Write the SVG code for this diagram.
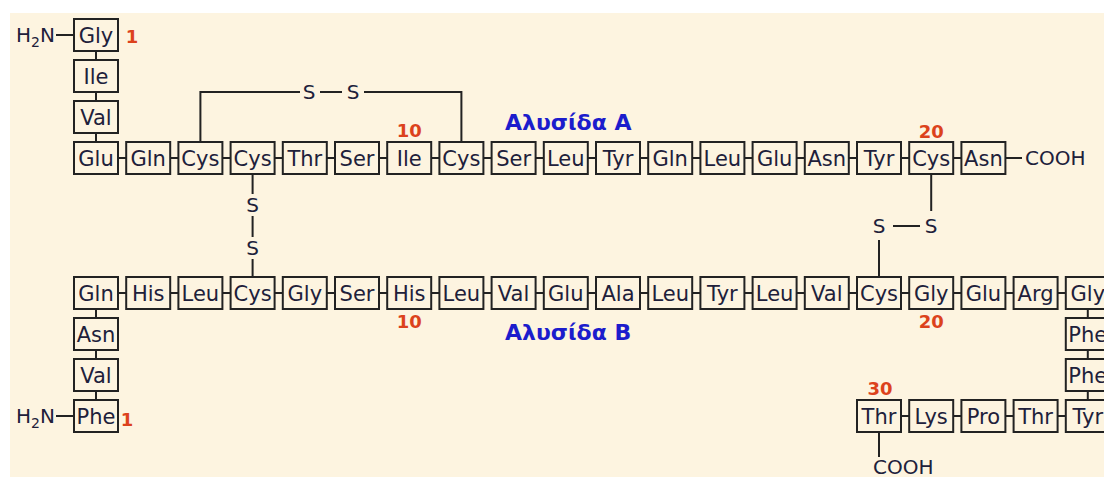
<svg xmlns="http://www.w3.org/2000/svg" width="1104" height="477" viewBox="0 0 1104 477">
  <style>
    .box { fill: none; stroke: #222; stroke-width: 2; }
    .aa { font-family: "DejaVu Sans", Verdana, sans-serif; font-size: 21px; fill: #20203a; text-anchor: middle; }
    .lbl { font-family: "DejaVu Sans", Verdana, sans-serif; font-size: 20px; fill: #20203a; }
    .num { font-family: "DejaVu Sans", Verdana, sans-serif; font-size: 18px; font-weight: bold; fill: #dc421c; text-anchor: middle; }
    .chain { font-family: "DejaVu Sans", Verdana, sans-serif; font-size: 22px; font-weight: bold; fill: #1c1ccc; }
    .bond { fill: none; stroke: #222; stroke-width: 2; }
  </style>
  <defs>
    <rect id="res" class="box" width="44" height="32"/>
  </defs>

  <!-- paper background -->
  <rect x="0" y="0" width="1104" height="477" fill="#ffffff"/>
  <rect x="10" y="13" width="1094" height="464" fill="#fdf4e0"/>

  <!-- peptide bonds and disulfide bridges -->
  <g id="connectors">
    <!-- chain A: N-terminal column -->
    <path class="bond" d="M56,35 H74 M96,51 V60 M96,92 V101 M96,133 V142"/>
    <!-- chain A: horizontal row (y = 158) -->
    <path class="bond" d="M118,158 H126.2 M170.2,158 H178.4 M222.4,158 H230.6 M274.6,158 H282.8 M326.8,158 H335 M379,158 H387.2 M431.2,158 H439.4 M483.4,158 H491.6 M535.6,158 H543.8 M587.8,158 H596 M640,158 H648.2 M692.2,158 H700.4 M744.4,158 H752.6 M796.6,158 H804.8 M848.8,158 H857 M901,158 H909.2 M953.2,158 H961.4 M1005.4,158 H1022"/>
    <!-- chain B: N-terminal column -->
    <path class="bond" d="M56,416 H74 M96,309 V318 M96,350 V359 M96,391 V400"/>
    <!-- chain B: horizontal row (y = 293) -->
    <path class="bond" d="M118,293 H126.2 M170.2,293 H178.4 M222.4,293 H230.6 M274.6,293 H282.8 M326.8,293 H335 M379,293 H387.2 M431.2,293 H439.4 M483.4,293 H491.6 M535.6,293 H543.8 M587.8,293 H596 M640,293 H648.2 M692.2,293 H700.4 M744.4,293 H752.6 M796.6,293 H804.8 M848.8,293 H857 M901,293 H909.2 M953.2,293 H961.4 M1005.4,293 H1013.6 M1057.6,293 H1065.8"/>
    <!-- chain B: right column and C-terminal row -->
    <path class="bond" d="M1087.8,309 V318 M1087.8,350 V359 M1087.8,391 V400 M901,416 H909.2 M953.2,416 H961.4 M1005.4,416 H1013.6 M1057.6,416 H1065.8 M879,432 V457"/>
    <!-- intra-chain bridge A6-A11 -->
    <path class="bond" d="M200.4,142 V92 H300 M320,92 H342 M364,92 H461.4 V142"/>
    <!-- inter-chain bridge A7-B7 -->
    <path class="bond" d="M252.6,174 V194 M252.6,216 V237 M252.6,259 V277"/>
    <!-- inter-chain bridge A20-B19 -->
    <path class="bond" d="M931.2,174 V211 M893,226 H920 M879,240 V277"/>
    <g class="lbl" text-anchor="middle">
      <text x="309" y="99">S</text>
      <text x="353" y="99">S</text>
      <text x="252.6" y="212">S</text>
      <text x="252.6" y="255">S</text>
      <text x="879" y="233">S</text>
      <text x="931.2" y="233">S</text>
    </g>
  </g>

  <!-- chain A residues -->
  <g id="chain-a">
    <g id="a-gly1" transform="translate(74,19)"><use href="#res"/><text class="aa" x="22" y="23.5">Gly</text></g>
    <g id="a-ile2" transform="translate(74,60)"><use href="#res"/><text class="aa" x="22" y="23.5">Ile</text></g>
    <g id="a-val3" transform="translate(74,101)"><use href="#res"/><text class="aa" x="22" y="23.5">Val</text></g>
    <g id="a-glu4" transform="translate(74,142)"><use href="#res"/><text class="aa" x="22" y="23.5">Glu</text></g>
    <g id="a-gln5" transform="translate(126.2,142)"><use href="#res"/><text class="aa" x="22" y="23.5">Gln</text></g>
    <g id="a-cys6" transform="translate(178.4,142)"><use href="#res"/><text class="aa" x="22" y="23.5">Cys</text></g>
    <g id="a-cys7" transform="translate(230.6,142)"><use href="#res"/><text class="aa" x="22" y="23.5">Cys</text></g>
    <g id="a-thr8" transform="translate(282.8,142)"><use href="#res"/><text class="aa" x="22" y="23.5">Thr</text></g>
    <g id="a-ser9" transform="translate(335,142)"><use href="#res"/><text class="aa" x="22" y="23.5">Ser</text></g>
    <g id="a-ile10" transform="translate(387.2,142)"><use href="#res"/><text class="aa" x="22" y="23.5">Ile</text></g>
    <g id="a-cys11" transform="translate(439.4,142)"><use href="#res"/><text class="aa" x="22" y="23.5">Cys</text></g>
    <g id="a-ser12" transform="translate(491.6,142)"><use href="#res"/><text class="aa" x="22" y="23.5">Ser</text></g>
    <g id="a-leu13" transform="translate(543.8,142)"><use href="#res"/><text class="aa" x="22" y="23.5">Leu</text></g>
    <g id="a-tyr14" transform="translate(596,142)"><use href="#res"/><text class="aa" x="22" y="23.5">Tyr</text></g>
    <g id="a-gln15" transform="translate(648.2,142)"><use href="#res"/><text class="aa" x="22" y="23.5">Gln</text></g>
    <g id="a-leu16" transform="translate(700.4,142)"><use href="#res"/><text class="aa" x="22" y="23.5">Leu</text></g>
    <g id="a-glu17" transform="translate(752.6,142)"><use href="#res"/><text class="aa" x="22" y="23.5">Glu</text></g>
    <g id="a-asn18" transform="translate(804.8,142)"><use href="#res"/><text class="aa" x="22" y="23.5">Asn</text></g>
    <g id="a-tyr19" transform="translate(857,142)"><use href="#res"/><text class="aa" x="22" y="23.5">Tyr</text></g>
    <g id="a-cys20" transform="translate(909.2,142)"><use href="#res"/><text class="aa" x="22" y="23.5">Cys</text></g>
    <g id="a-asn21" transform="translate(961.4,142)"><use href="#res"/><text class="aa" x="22" y="23.5">Asn</text></g>
    <g id="a-nterm"><text class="lbl" x="55" y="42" text-anchor="end">H<tspan font-size="14" dy="5">2</tspan><tspan dy="-5">N</tspan></text></g>
    <g id="a-cterm"><text class="lbl" x="1025" y="165">COOH</text></g>
    <text class="num" x="132" y="43">1</text>
    <text class="num" x="409.2" y="137">10</text>
    <text class="num" x="931.2" y="138">20</text>
    <text class="chain" x="505" y="130">Αλυσίδα Α</text>
  </g>

  <!-- chain B residues -->
  <g id="chain-b">
    <g id="b-phe1" transform="translate(74,400)"><use href="#res"/><text class="aa" x="22" y="23.5">Phe</text></g>
    <g id="b-val2" transform="translate(74,359)"><use href="#res"/><text class="aa" x="22" y="23.5">Val</text></g>
    <g id="b-asn3" transform="translate(74,318)"><use href="#res"/><text class="aa" x="22" y="23.5">Asn</text></g>
    <g id="b-gln4" transform="translate(74,277)"><use href="#res"/><text class="aa" x="22" y="23.5">Gln</text></g>
    <g id="b-his5" transform="translate(126.2,277)"><use href="#res"/><text class="aa" x="22" y="23.5">His</text></g>
    <g id="b-leu6" transform="translate(178.4,277)"><use href="#res"/><text class="aa" x="22" y="23.5">Leu</text></g>
    <g id="b-cys7" transform="translate(230.6,277)"><use href="#res"/><text class="aa" x="22" y="23.5">Cys</text></g>
    <g id="b-gly8" transform="translate(282.8,277)"><use href="#res"/><text class="aa" x="22" y="23.5">Gly</text></g>
    <g id="b-ser9" transform="translate(335,277)"><use href="#res"/><text class="aa" x="22" y="23.5">Ser</text></g>
    <g id="b-his10" transform="translate(387.2,277)"><use href="#res"/><text class="aa" x="22" y="23.5">His</text></g>
    <g id="b-leu11" transform="translate(439.4,277)"><use href="#res"/><text class="aa" x="22" y="23.5">Leu</text></g>
    <g id="b-val12" transform="translate(491.6,277)"><use href="#res"/><text class="aa" x="22" y="23.5">Val</text></g>
    <g id="b-glu13" transform="translate(543.8,277)"><use href="#res"/><text class="aa" x="22" y="23.5">Glu</text></g>
    <g id="b-ala14" transform="translate(596,277)"><use href="#res"/><text class="aa" x="22" y="23.5">Ala</text></g>
    <g id="b-leu15" transform="translate(648.2,277)"><use href="#res"/><text class="aa" x="22" y="23.5">Leu</text></g>
    <g id="b-tyr16" transform="translate(700.4,277)"><use href="#res"/><text class="aa" x="22" y="23.5">Tyr</text></g>
    <g id="b-leu17" transform="translate(752.6,277)"><use href="#res"/><text class="aa" x="22" y="23.5">Leu</text></g>
    <g id="b-val18" transform="translate(804.8,277)"><use href="#res"/><text class="aa" x="22" y="23.5">Val</text></g>
    <g id="b-cys19" transform="translate(857,277)"><use href="#res"/><text class="aa" x="22" y="23.5">Cys</text></g>
    <g id="b-gly20" transform="translate(909.2,277)"><use href="#res"/><text class="aa" x="22" y="23.5">Gly</text></g>
    <g id="b-glu21" transform="translate(961.4,277)"><use href="#res"/><text class="aa" x="22" y="23.5">Glu</text></g>
    <g id="b-arg22" transform="translate(1013.6,277)"><use href="#res"/><text class="aa" x="22" y="23.5">Arg</text></g>
    <g id="b-gly23" transform="translate(1065.8,277)"><use href="#res"/><text class="aa" x="22" y="23.5">Gly</text></g>
    <g id="b-phe24" transform="translate(1065.8,318)"><use href="#res"/><text class="aa" x="22" y="23.5">Phe</text></g>
    <g id="b-phe25" transform="translate(1065.8,359)"><use href="#res"/><text class="aa" x="22" y="23.5">Phe</text></g>
    <g id="b-tyr26" transform="translate(1065.8,400)"><use href="#res"/><text class="aa" x="22" y="23.5">Tyr</text></g>
    <g id="b-thr27" transform="translate(1013.6,400)"><use href="#res"/><text class="aa" x="22" y="23.5">Thr</text></g>
    <g id="b-pro28" transform="translate(961.4,400)"><use href="#res"/><text class="aa" x="22" y="23.5">Pro</text></g>
    <g id="b-lys29" transform="translate(909.2,400)"><use href="#res"/><text class="aa" x="22" y="23.5">Lys</text></g>
    <g id="b-thr30" transform="translate(857,400)"><use href="#res"/><text class="aa" x="22" y="23.5">Thr</text></g>
    <g id="b-nterm"><text class="lbl" x="55" y="423" text-anchor="end">H<tspan font-size="14" dy="5">2</tspan><tspan dy="-5">N</tspan></text></g>
    <g id="b-cterm"><text class="lbl" x="873" y="474">COOH</text></g>
    <text class="num" x="127" y="426">1</text>
    <text class="num" x="409.2" y="328">10</text>
    <text class="num" x="931.2" y="328">20</text>
    <text class="num" x="880" y="395">30</text>
    <text class="chain" x="505" y="340">Αλυσίδα Β</text>
  </g>
</svg>
